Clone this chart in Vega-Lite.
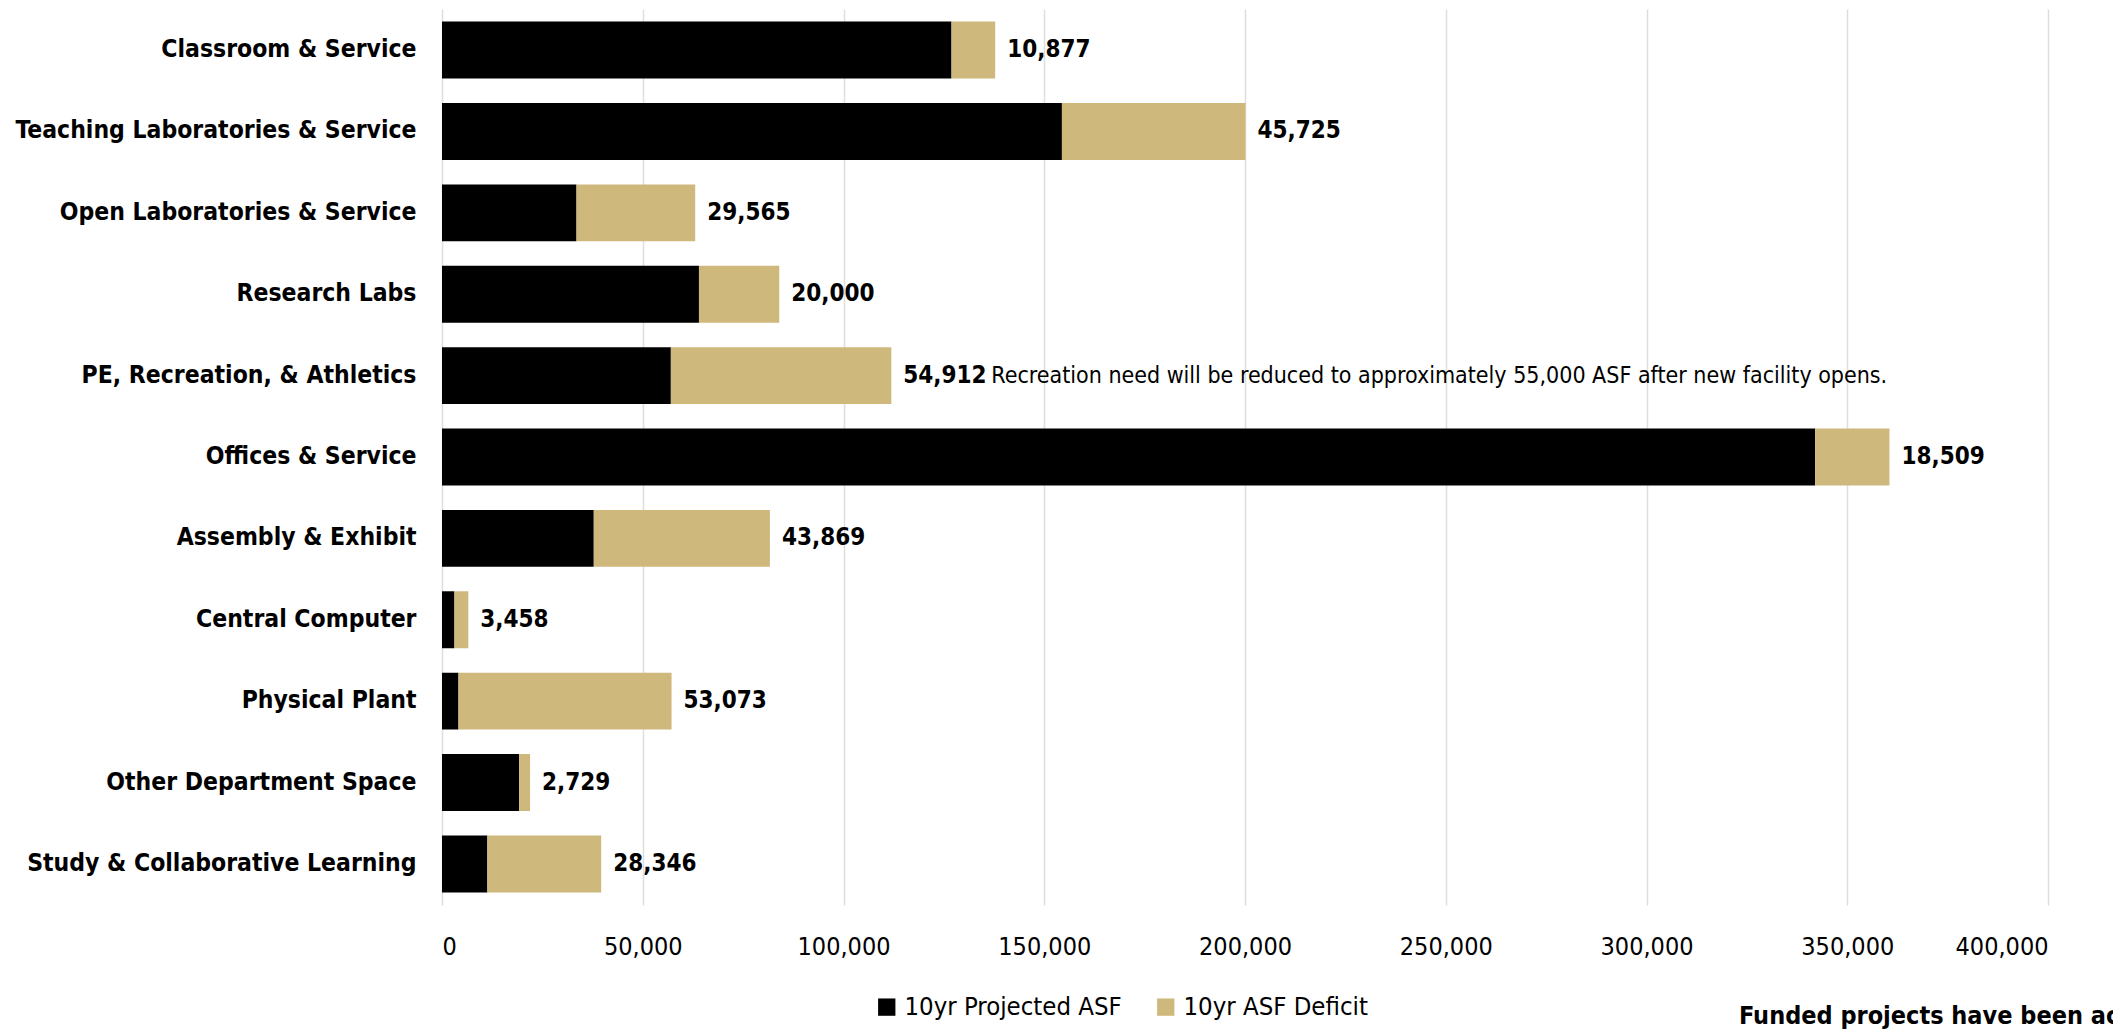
{
  "$schema": "https://vega.github.io/schema/vega-lite/v6.json",
  "autosize": {"type": "none"},
  "padding": {"left": 442, "top": 9, "right": 65, "bottom": 126},
  "width": 1606,
  "height": 896,
  "background": "white",
  "config": {
    "font": "DejaVu Sans Condensed, DejaVu Sans, sans-serif",
    "view": {"stroke": null}
  },
  "title": {
    "text": "Funded projects have been accounted for in the 10yr projected ASF.",
    "orient": "bottom",
    "anchor": "start",
    "frame": "group",
    "dx": 1297,
    "offset": -17,
    "fontSize": 25,
    "fontWeight": "bold",
    "color": "#000000",
    "font": "DejaVu Sans Condensed, DejaVu Sans, sans-serif"
  },
  "data": {
    "values": [
      {"category": "Classroom & Service", "10yr Projected ASF": 126900, "10yr ASF Deficit": 10877, "note": ""},
      {"category": "Teaching Laboratories & Service", "10yr Projected ASF": 154400, "10yr ASF Deficit": 45725, "note": ""},
      {"category": "Open Laboratories & Service", "10yr Projected ASF": 33500, "10yr ASF Deficit": 29565, "note": ""},
      {"category": "Research Labs", "10yr Projected ASF": 64000, "10yr ASF Deficit": 20000, "note": ""},
      {"category": "PE, Recreation, & Athletics", "10yr Projected ASF": 57000, "10yr ASF Deficit": 54912, "note": "Recreation need will be reduced to approximately 55,000 ASF after new facility opens."},
      {"category": "Offices & Service", "10yr Projected ASF": 342000, "10yr ASF Deficit": 18509, "note": ""},
      {"category": "Assembly & Exhibit", "10yr Projected ASF": 37800, "10yr ASF Deficit": 43869, "note": ""},
      {"category": "Central Computer", "10yr Projected ASF": 3100, "10yr ASF Deficit": 3458, "note": ""},
      {"category": "Physical Plant", "10yr Projected ASF": 4100, "10yr ASF Deficit": 53073, "note": ""},
      {"category": "Other Department Space", "10yr Projected ASF": 19200, "10yr ASF Deficit": 2729, "note": ""},
      {"category": "Study & Collaborative Learning", "10yr Projected ASF": 11300, "10yr ASF Deficit": 28346, "note": ""}
    ]
  },
  "transform": [
    {"fold": ["10yr Projected ASF", "10yr ASF Deficit"], "as": ["series", "asf"]}
  ],
  "encoding": {
    "y": {
      "field": "category",
      "type": "nominal",
      "sort": null,
      "scale": {"paddingInner": 0.3, "paddingOuter": 0.155},
      "axis": {
        "title": null,
        "domain": false,
        "ticks": false,
        "labelFontSize": 24.5,
        "labelFontWeight": "bold",
        "labelColor": "#000000",
        "labelPadding": 26,
        "labelLimit": 600
      }
    }
  },
  "layer": [
    {
      "mark": {"type": "bar"},
      "encoding": {
        "x": {
          "field": "asf",
          "type": "quantitative",
          "stack": "zero",
          "scale": {"domain": [0, 400000], "nice": false},
          "axis": {
            "title": null,
            "values": [0, 50000, 100000, 150000, 200000, 250000, 300000, 350000, 400000],
            "format": ",d",
            "grid": true,
            "gridColor": "#dedede",
            "gridWidth": 1.5,
            "domain": false,
            "ticks": false,
            "labelFontSize": 25,
            "labelColor": "#000000",
            "labelPadding": 29
          }
        },
        "color": {
          "field": "series",
          "type": "nominal",
          "scale": {"domain": ["10yr Projected ASF", "10yr ASF Deficit"], "range": ["#000000", "#CFB87C"]},
          "legend": {
            "title": null,
            "orient": "none",
            "legendX": 432,
            "legendY": 985,
            "direction": "horizontal",
            "symbolType": "square",
            "symbolSize": 300,
            "symbolStrokeWidth": 0,
            "labelFontSize": 25.5,
            "labelColor": "#000000",
            "labelOffset": 5,
            "columnPadding": 31,
            "labelLimit": 400
          }
        },
        "order": {"field": "series", "sort": "descending"}
      }
    },
    {
      "mark": {"type": "text", "align": "left", "baseline": "middle", "dx": 12, "fontSize": 24, "fontWeight": "bold", "color": "#000000"},
      "encoding": {
        "x": {"aggregate": "sum", "field": "asf", "type": "quantitative"},
        "text": {"aggregate": "max", "field": "10yr ASF Deficit", "type": "quantitative", "format": ",d"}
      }
    },
    {
      "transform": [{"filter": "datum.note != ''"}],
      "mark": {"type": "text", "align": "left", "baseline": "middle", "dx": 100, "fontSize": 23, "color": "#000000"},
      "encoding": {
        "x": {"aggregate": "sum", "field": "asf", "type": "quantitative"},
        "text": {"field": "note", "type": "nominal"}
      }
    }
  ]
}
